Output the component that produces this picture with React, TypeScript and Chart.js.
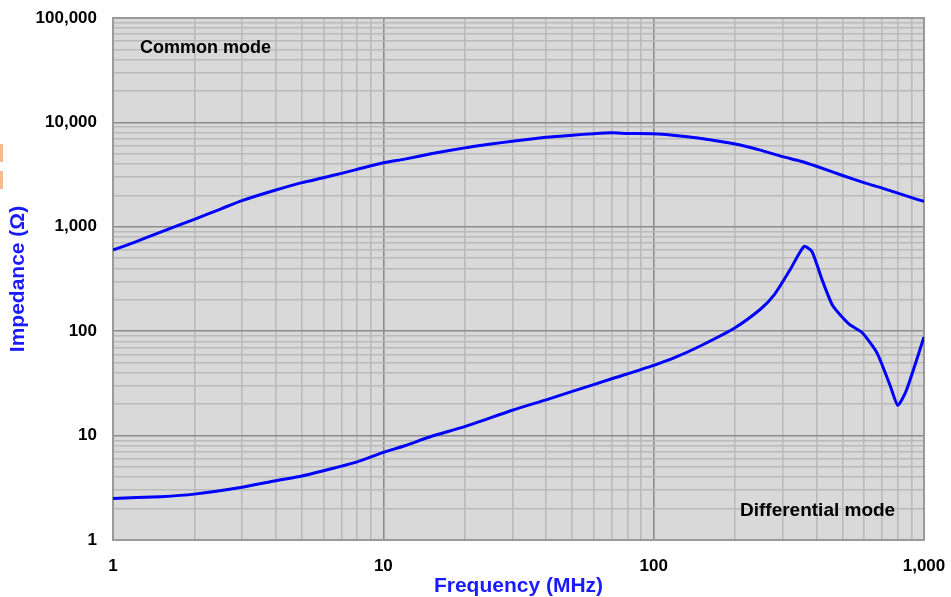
import React, { useEffect, useRef } from "react";
import { Chart, registerables } from "chart.js";

Chart.register(...registerables);

// Common mode impedance (Ω) vs frequency (MHz)
const cmFreq = [1, 1.2, 1.5, 2, 2.5, 3, 4, 5, 6, 7, 8, 10, 12, 15, 20, 25, 30, 40, 50, 60, 70, 80, 100, 120, 150, 200, 250, 300, 350, 400, 500, 600, 700, 800, 900, 1000];
const cmImpedance = [600, 710, 890, 1180, 1480, 1780, 2250, 2650, 2950, 3250, 3550, 4100, 4450, 5000, 5700, 6200, 6600, 7200, 7550, 7800, 7950, 7850, 7800, 7500, 7000, 6200, 5400, 4700, 4250, 3800, 3100, 2650, 2350, 2100, 1900, 1750];

// Differential mode impedance (Ω) vs frequency (MHz)
const dmFreq = [1, 1.5, 2, 3, 4, 5, 6, 7, 8, 10, 12, 15, 20, 30, 40, 50, 70, 100, 120, 150, 200, 250, 280, 320, 360, 385, 420, 460, 530, 590, 670, 750, 800, 860, 1000];
const dmImpedance = [2.5, 2.6, 2.75, 3.2, 3.7, 4.1, 4.6, 5.1, 5.6, 6.9, 8.0, 9.8, 12.2, 17.5, 22, 26.5, 35, 47, 56, 73, 108, 165, 225, 390, 650, 580, 310, 175, 116, 97, 62, 30, 19.5, 27, 88];

const xMajorTicks = [1, 10, 100, 1000];
const yMajorTicks = [1, 10, 100, 1000, 10000, 100000];
const minorSteps = [1, 2, 3, 4, 5, 6, 7, 8, 9];

const xTitle = "Frequency (MHz)";
const yTitle = "Impedance (Ω)";
const cmLabel = "Common mode";
const dmLabel = "Differential mode";

const FONT = "'Liberation Sans', Arial, sans-serif";

function logTicks(majors: number[]) {
  const out: { value: number }[] = [];
  for (let i = 0; i < majors.length - 1; i++) {
    for (const s of minorSteps) out.push({ value: majors[i] * s });
  }
  out.push({ value: majors[majors.length - 1] });
  return out;
}

function isMajor(v: number, majors: number[]) {
  return majors.some((m) => Math.abs(m - v) / m < 1e-6);
}

const bgPlugin = {
  id: "bgPlugin",
  beforeDraw(chart: any) {
    const { ctx, chartArea: a } = chart;
    ctx.save();
    ctx.fillStyle = "#d9d9d9";
    ctx.fillRect(a.left, a.top, a.right - a.left, a.bottom - a.top);
    // small orange marks at the left edge
    ctx.fillStyle = "#f5b98c";
    ctx.fillRect(0, 144, 3, 18);
    ctx.fillRect(0, 171, 3, 18);
    ctx.restore();
  },
  beforeDatasetsDraw(chart: any) {
    const { ctx, chartArea: a } = chart;
    ctx.save();
    ctx.strokeStyle = "#9a9a9a";
    ctx.lineWidth = 2;
    ctx.strokeRect(a.left, a.top, a.right - a.left, a.bottom - a.top);
    ctx.restore();
  },
  afterDraw(chart: any) {
    const { ctx, chartArea: a } = chart;
    ctx.save();
    ctx.fillStyle = "#000";
    ctx.textBaseline = "middle";
    ctx.textAlign = "left";
    ctx.font = `bold 18px ${FONT}`;
    ctx.fillText(cmLabel, a.left + 27, a.top + 30);
    ctx.font = `bold 19px ${FONT}`;
    ctx.fillText(dmLabel, a.left + 627, a.bottom - 29);
    ctx.restore();
  },
};

export default function App() {
  const ref = useRef<HTMLCanvasElement | null>(null);

  useEffect(() => {
    if (!ref.current) return;
    const chart = new Chart(ref.current, {
      type: "line",
      data: {
        datasets: [
          {
            label: cmLabel,
            data: cmFreq.map((f, i) => ({ x: f, y: cmImpedance[i] })),
            borderColor: "#0000ff",
            borderWidth: 3,
            pointRadius: 0,
            tension: 0.2,
            fill: false,
          },
          {
            label: dmLabel,
            data: dmFreq.map((f, i) => ({ x: f, y: dmImpedance[i] })),
            borderColor: "#0000ff",
            borderWidth: 3,
            pointRadius: 0,
            tension: 0.2,
            fill: false,
          },
        ],
      },
      options: {
        animation: false,
        responsive: true,
        maintainAspectRatio: false,
        layout: { padding: { top: 18, right: 27, left: 0, bottom: 0 } },
        plugins: {
          legend: { display: false },
          tooltip: { enabled: false },
        },
        scales: {
          x: {
            type: "logarithmic",
            min: 1,
            max: 1000,
            afterBuildTicks: (s: any) => {
              s.ticks = logTicks(xMajorTicks);
            },
            afterFit: (s: any) => {
              s.height = 57;
              s.paddingLeft = 0;
              s.paddingRight = 0;
            },
            border: { display: false },
            grid: {
              drawTicks: false,
              color: (c: any) => (isMajor(c.tick?.value, xMajorTicks) ? "#8c8c8c" : "#bababa"),
              lineWidth: 1.6,
            },
            ticks: {
              autoSkip: false,
              maxRotation: 0,
              padding: 16,
              color: "#000",
              font: { family: FONT, size: 17, weight: "bold" },
              callback: (v: any) => (isMajor(Number(v), xMajorTicks) ? Number(v).toLocaleString("en-US") : ""),
            },
            title: {
              display: true,
              text: xTitle,
              color: "#1a1aff",
              font: { family: FONT, size: 21, weight: "bold", lineHeight: 1 },
              padding: { top: 0, bottom: 0 },
            },
          },
          y: {
            type: "logarithmic",
            min: 1,
            max: 100000,
            afterBuildTicks: (s: any) => {
              s.ticks = logTicks(yMajorTicks);
            },
            afterFit: (s: any) => {
              s.width = 113;
              s.paddingTop = 0;
              s.paddingBottom = 0;
            },
            border: { display: false },
            grid: {
              drawTicks: false,
              color: (c: any) => (isMajor(c.tick?.value, yMajorTicks) ? "#8c8c8c" : "#bababa"),
              lineWidth: 1.6,
            },
            ticks: {
              autoSkip: false,
              padding: 16,
              color: "#000",
              font: { family: FONT, size: 17, weight: "bold" },
              callback: (v: any) => (isMajor(Number(v), yMajorTicks) ? Number(v).toLocaleString("en-US") : ""),
            },
            title: {
              display: true,
              text: yTitle,
              color: "#1a1aff",
              font: { family: FONT, size: 21, weight: "bold", lineHeight: 1 },
              padding: { top: 8, bottom: 0 },
            },
          },
        },
      },
      plugins: [bgPlugin],
    });
    return () => chart.destroy();
  }, []);

  return (
    <div style={{ position: "absolute", left: 0, top: 0, width: 951, height: 597, background: "#fff" }}>
      <canvas ref={ref} />
    </div>
  );
}
